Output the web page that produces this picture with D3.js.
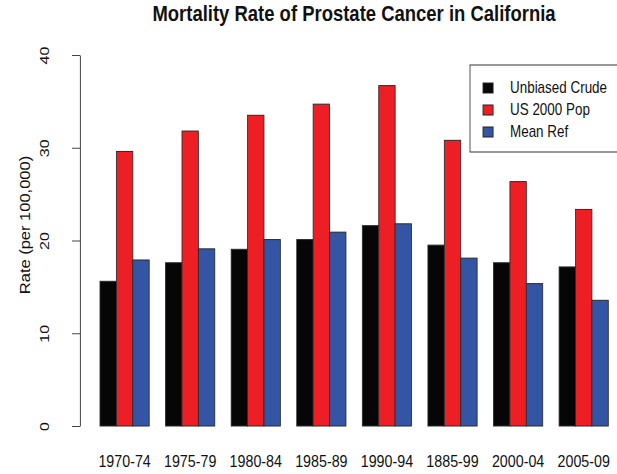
<!DOCTYPE html>
<html>
<head>
<meta charset="utf-8">
<script src="https://cdn.jsdelivr.net/npm/d3@7"></script>
<style>
  body { margin: 0; background: #fff; }
  text { font-family: "Liberation Sans", Arial, sans-serif; fill: #111; }
</style>
</head>
<body>
<script>
// -------------------- DATA --------------------
var periods = ["1970-74", "1975-79", "1980-84", "1985-89", "1990-94", "1885-99", "2000-04", "2005-09"];
var seriesNames = ["Unbiased Crude", "US 2000 Pop", "Mean Ref"];
var unbiasedCrude = [15.6, 17.6, 19.05, 20.1, 21.6, 19.5, 17.6, 17.15];
var us2000Pop     = [29.6, 31.8, 33.5, 34.7, 36.7, 30.8, 26.35, 23.35];
var meanRef       = [17.9, 19.1, 20.1, 20.9, 21.8, 18.1, 15.35, 13.55];
var yTicks = [0, 10, 20, 30, 40];

var colors = ["#060606", "#ED1F24", "#3454A4"];

// -------------------- DIMENSIONS --------------------
// the picture looks squeezed sideways, so draw wide and scale x down
var w = 617, h = 474;
var sx = 0.84;

var y0 = 426, y40 = 55;

var svg = d3.select("body")
  .append("svg")
  .attr("width", w)
  .attr("height", h);

svg.append("rect").attr("width", w).attr("height", h).attr("fill", "#fff");

var g = svg.append("g")
  .attr("transform", "scale(" + sx + ",1)");

// -------------------- SCALES --------------------
var x = d3.scaleBand()
  .domain(periods)
  .range([100 / sx, 608.3 / sx])
  .paddingInner(0.25)
  .paddingOuter(0);

var xSeries = d3.scaleBand()
  .domain(d3.range(seriesNames.length))
  .range([0, x.bandwidth()]);

var y = d3.scaleLinear()
  .domain([0, 40])
  .range([y0, y40]);

var table = periods.map(function(p, i) {
  return { period: p, values: [unbiasedCrude[i], us2000Pop[i], meanRef[i]] };
});

// -------------------- BARS --------------------
var groups = g.selectAll("g.grp")
  .data(table)
  .enter()
  .append("g")
  .attr("class", "grp")
  .attr("transform", function(d) { return "translate(" + x(d.period) + ",0)"; });

groups.selectAll("rect")
  .data(function(d) { return d.values; })
  .enter()
  .append("rect")
  .attr("x", function(d, i) { return xSeries(i); })
  .attr("y", function(d) { return y(d); })
  .attr("width", xSeries.bandwidth())
  .attr("height", function(d) { return y(0) - y(d); })
  .attr("fill", function(d, i) { return colors[i]; })
  .attr("stroke", "#2a2a2a")
  .attr("stroke-width", 1);

// x labels (no axis line in the original)
g.selectAll("text.xlab")
  .data(periods)
  .enter()
  .append("text")
  .attr("class", "xlab")
  .attr("x", function(d) { return x(d) + x.bandwidth() / 2; })
  .attr("y", 467)
  .attr("text-anchor", "middle")
  .attr("font-size", "17px")
  .text(function(d) { return d; });

// -------------------- Y AXIS --------------------
var axisX = 80 / sx;
var yAxis = d3.axisLeft(y)
  .tickValues(yTicks)
  .tickSize(9.5)
  .tickSizeOuter(0)
  .tickFormat(d3.format("d"));

var ag = g.append("g")
  .attr("transform", "translate(" + axisX + ",0)")
  .call(yAxis);

ag.select(".domain").attr("stroke", "#333");
ag.selectAll(".tick line").attr("stroke", "#333");
ag.selectAll(".tick text")
  .attr("x", null).attr("dy", null)
  .attr("transform", "translate(" + (-(axisX - 58)) + ",0) rotate(-90)")
  .attr("text-anchor", "middle")
  .attr("font-size", "16px")
  .attr("font-family", "Liberation Sans, Arial, sans-serif")
  .attr("fill", "#111");

g.append("text")
  .attr("transform", "translate(" + (30 / sx) + ",225) rotate(-90)")
  .attr("text-anchor", "middle")
  .attr("font-size", "16.5px")
  .text("Rate (per 100,000)");

// -------------------- TITLE --------------------
g.append("text")
  .attr("x", 354 / sx)
  .attr("y", 21)
  .attr("text-anchor", "middle")
  .attr("font-size", "22px")
  .attr("font-weight", "bold")
  .text("Mortality Rate of Prostate Cancer in California");

// -------------------- LEGEND --------------------
var lg = g.append("g");
lg.append("rect")
  .attr("x", 470 / sx)
  .attr("y", 65)
  .attr("width", 200)
  .attr("height", 87)
  .attr("fill", "#fff")
  .attr("stroke", "#333")
  .attr("stroke-width", 1);

var rowY = d3.scalePoint().domain(seriesNames).range([88, 132]);

lg.selectAll("rect.key")
  .data(seriesNames)
  .enter()
  .append("rect")
  .attr("class", "key")
  .attr("x", 483 / sx)
  .attr("y", function(d) { return rowY(d) - 5; })
  .attr("width", 12)
  .attr("height", 10)
  .attr("fill", function(d, i) { return colors[i]; })
  .attr("stroke", "#222");

lg.selectAll("text.key")
  .data(seriesNames)
  .enter()
  .append("text")
  .attr("class", "key")
  .attr("x", 510 / sx)
  .attr("y", function(d) { return rowY(d) + 5.5; })
  .attr("font-size", "16px")
  .text(function(d) { return d; });
</script>
</body>
</html>
